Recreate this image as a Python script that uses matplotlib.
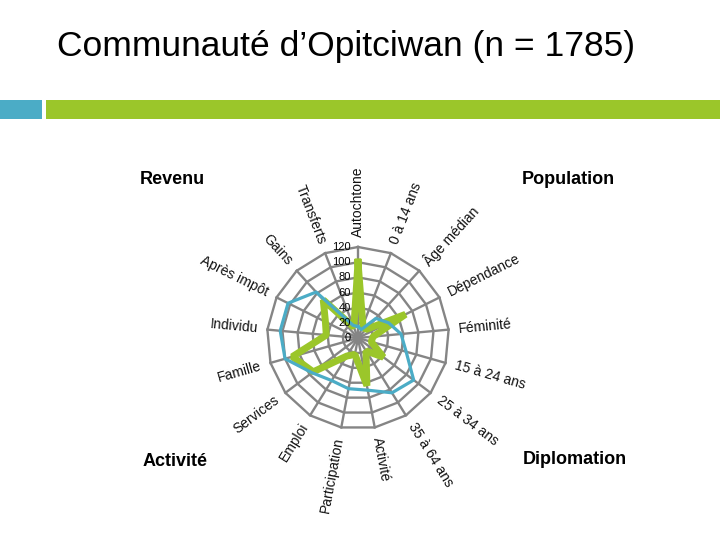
import matplotlib
matplotlib.use('Agg')
import matplotlib.pyplot as plt
import numpy as np
from matplotlib.patches import Rectangle
from matplotlib.transforms import offset_copy

plt.rcParams['font.family'] = ['Liberation Sans', 'DejaVu Sans']

# axes of the radar, clockwise from the top
categories = ['Autochtone', '0 à 14 ans', 'Âge médian', 'Dépendance', 'Féminité',
              '15 à 24 ans', '25 à 34 ans', '35 à 64 ans', 'Activité', 'Participation',
              'Emploi', 'Services', 'Famille', 'Individu', 'Après impôt', 'Gains', 'Transferts']
opitciwan = [100, 18, 15, 70, 20, 18, 42, 20, 64, 22, 28, 74, 90, 42, 48, 68, 15]
reference = [15, 12, 35, 45, 57, 66, 92, 85, 70, 68, 66, 76, 100, 103, 103, 82, 18]
ticks = [0, 20, 40, 60, 80, 100, 120]

title = 'Communauté d’Opitciwan (n = 1785)'

W, H = 720, 540
fig = plt.figure(figsize=(7.2, 5.4), dpi=100)

# decorative band under the title
fig.patches.append(Rectangle((0, 1 - 119 / H), 42 / W, 19 / H, transform=fig.transFigure,
                             facecolor='#4BACC6', edgecolor='none'))
fig.patches.append(Rectangle((46 / W, 1 - 119 / H), 1, 19 / H, transform=fig.transFigure,
                             facecolor='#9BC62A', edgecolor='none'))

fig.text(57 / W, 1 - 56 / H, title, fontsize=25.5, va='baseline', color='black')

fig.text(140 / W, 1 - 180 / H, 'Revenu', fontsize=13, fontweight='bold', va='center')
fig.text(522 / W, 1 - 180 / H, 'Population', fontsize=13, fontweight='bold', va='center')
fig.text(143 / W, 1 - 462 / H, 'Activité', fontsize=13, fontweight='bold', va='center')
fig.text(523 / W, 1 - 460 / H, 'Diplomation', fontsize=13, fontweight='bold', va='center')

n = len(categories)
angles = np.arange(n) * 2 * np.pi / n
closed = np.append(angles, angles[0])

cx, cy, rad = 358, 338, 91
ax = fig.add_axes([(cx - rad) / W, (H - cy - rad) / H, 2 * rad / W, 2 * rad / H], projection='polar')
ax.set_theta_zero_location('N')
ax.set_theta_direction(-1)
ax.set_ylim(0, ticks[-1])
ax.axis('off')

grid_color = '#858585'
for t in ticks[1:]:
    ax.plot(closed, [t] * (n + 1), color=grid_color, lw=1.7, zorder=1, clip_on=False)
for a in angles:
    ax.plot([a, a], [0, ticks[-1]], color=grid_color, lw=1.7, zorder=1, clip_on=False)

ax.plot(closed, opitciwan + opitciwan[:1], color='#9BC62A', lw=5, solid_joinstyle='bevel',
        zorder=3, clip_on=False)
ax.plot(closed, reference + reference[:1], color='#4BACC6', lw=2.3, solid_joinstyle='round',
        zorder=4, clip_on=False)

tr = offset_copy(ax.transData, fig=fig, x=-5, y=0, units='points')
for t in ticks:
    ax.text(0, t, str(t), transform=tr, ha='right', va='center', fontsize=8, zorder=5)

for a, lab in zip(angles, categories):
    deg = np.degrees(a)
    if deg <= 180:
        rot, ha = 90 - deg, 'left'
    else:
        rot, ha = 270 - deg, 'right'
    ax.text(a, 133, lab, rotation=rot, rotation_mode='anchor', ha=ha, va='center',
            fontsize=10, color='#111111')

fig.savefig('out.png', dpi=100)
